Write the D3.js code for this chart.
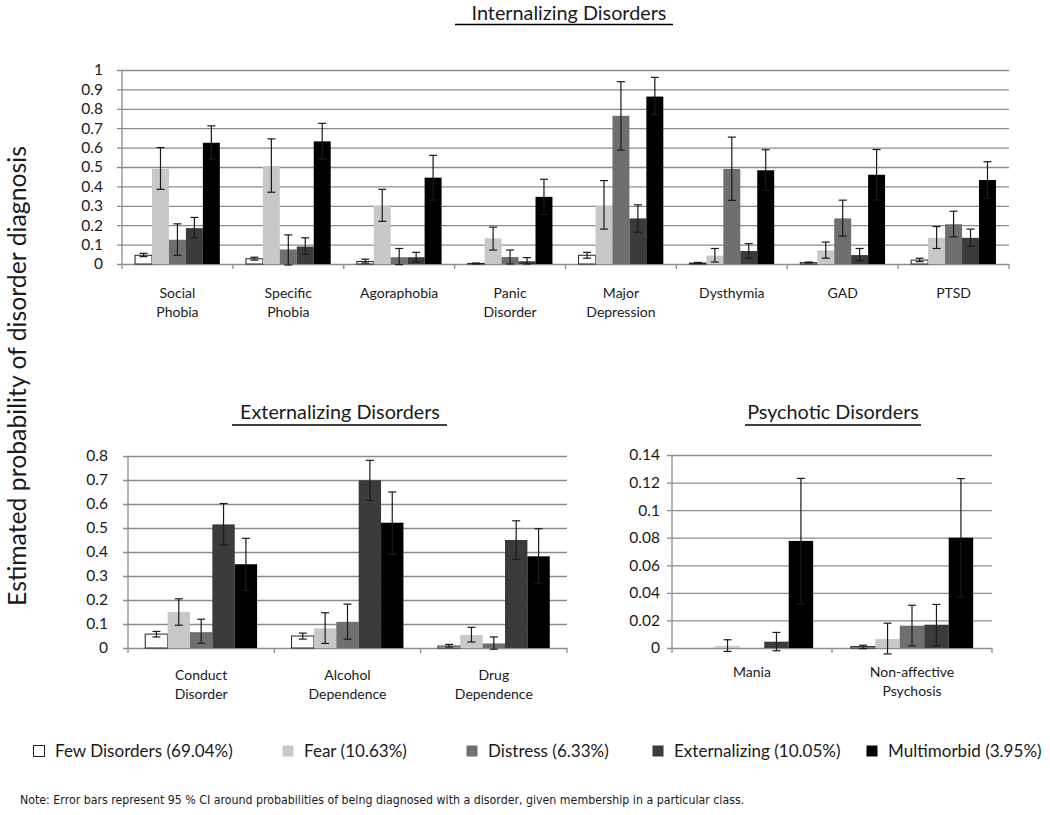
<!DOCTYPE html>
<html><head><meta charset="utf-8">
<script src="https://cdn.jsdelivr.net/npm/d3@7"></script>
<style>body{margin:0;background:#fff}svg{display:block}</style>
</head><body>
<svg id="c" width="1050" height="815"></svg>
<script>
// ---------- data ----------
const seriesNames = ["Few Disorders (69.04%)", "Fear (10.63%)", "Distress (6.33%)", "Externalizing (10.05%)", "Multimorbid (3.95%)"];
const seriesColors = ["#ffffff", "#c8c8c8", "#6f6f6f", "#3b3b3b", "#000000"];

const intCategories = ["Social Phobia", "Specific Phobia", "Agoraphobia", "Panic Disorder", "Major Depression", "Dysthymia", "GAD", "PTSD"];
const intTicks = ["0", "0.1", "0.2", "0.3", "0.4", "0.5", "0.6", "0.7", "0.8", "0.9", "1"];
const intMean = [
  [0.045, 0.027, 0.013, 0.003, 0.045, 0.005, 0.007, 0.020],
  [0.490, 0.505, 0.300, 0.132, 0.300, 0.043, 0.070, 0.135],
  [0.125, 0.075, 0.035, 0.036, 0.764, 0.490, 0.235, 0.205],
  [0.185, 0.090, 0.035, 0.014, 0.235, 0.067, 0.046, 0.135],
  [0.625, 0.632, 0.445, 0.346, 0.863, 0.483, 0.460, 0.433]
];
const intLow = [
  [0.038, 0.020, 0.005, 0.001, 0.030, 0.003, 0.005, 0.012],
  [0.385, 0.370, 0.220, 0.072, 0.180, 0.010, 0.030, 0.080],
  [0.045, -0.005, -0.003, 0.000, 0.587, 0.328, 0.144, 0.140],
  [0.135, 0.050, 0.010, 0.000, 0.164, 0.030, 0.017, 0.092],
  [0.540, 0.540, 0.330, 0.255, 0.770, 0.380, 0.330, 0.340]
];
const intHigh = [
  [0.055, 0.035, 0.025, 0.005, 0.060, 0.008, 0.010, 0.030],
  [0.600, 0.645, 0.385, 0.190, 0.430, 0.080, 0.113, 0.193],
  [0.207, 0.150, 0.080, 0.072, 0.940, 0.654, 0.329, 0.272],
  [0.240, 0.135, 0.060, 0.033, 0.305, 0.105, 0.080, 0.180],
  [0.712, 0.725, 0.560, 0.437, 0.962, 0.589, 0.590, 0.527]
];

const extCategories = ["Conduct Disorder", "Alcohol Dependence", "Drug Dependence"];
const extTicks = ["0", "0.1", "0.2", "0.3", "0.4", "0.5", "0.6", "0.7", "0.8"];
const extMean = [
  [0.058, 0.050, 0.008],
  [0.150, 0.082, 0.054],
  [0.066, 0.109, 0.019],
  [0.515, 0.699, 0.450],
  [0.349, 0.522, 0.382]
];
const extLow = [
  [0.046, 0.037, 0.004],
  [0.095, 0.019, 0.025],
  [0.020, 0.037, -0.005],
  [0.430, 0.615, 0.370],
  [0.240, 0.390, 0.270]
];
const extHigh = [
  [0.069, 0.062, 0.015],
  [0.205, 0.147, 0.086],
  [0.120, 0.183, 0.046],
  [0.602, 0.782, 0.530],
  [0.457, 0.650, 0.497]
];

const psyCategories = ["Mania", "Non-affective Psychosis"];
const psyTicks = ["0", "0.02", "0.04", "0.06", "0.08", "0.1", "0.12", "0.14"];
const psyMean = [
  [0, 0.0010],
  [0.0015, 0.0065],
  [0, 0.0162],
  [0.0046, 0.0169],
  [0.0777, 0.0800]
];
const psyLow = [
  [null, -0.0005],
  [-0.0025, -0.0043],
  [null, 0.0015],
  [-0.0020, 0.0017],
  [0.0320, 0.0370]
];
const psyHigh = [
  [null, 0.0020],
  [0.0060, 0.0180],
  [null, 0.0310],
  [0.0113, 0.0316],
  [0.1230, 0.1229]
];

const noteText = "Note: Error bars represent 95 % CI around probabilities of being diagnosed with a disorder, given membership in a particular class.";

// ---------- drawing ----------
const svg = d3.select("#c");
const FONT = "Lato, 'Open Sans', sans-serif";
const GRID = "#8c8c8c";
const INK = "#1a1a1a";

function fit(sel, target) {
  const w = sel.node().getComputedTextLength();
  const fs = parseFloat(sel.attr("font-size"));
  sel.attr("font-size", fs * target / w);
  return fs * target / w;
}

function drawPanel(cfg) {
  const { cats, ticks, mean, low, high, x0, x1, yTop, yZero, labelGap, labelOffset } = cfg;
  const tickVals = ticks.map(Number);
  const maxV = d3.max(tickVals);
  const g = svg.append("g");
  const xb = d3.scaleBand().domain(cats).range([x0, x1]).padding(0);
  const inner = d3.scaleBand().domain(d3.range(seriesNames.length))
    .range([0, xb.bandwidth()]).paddingInner(0).paddingOuter(0.77);
  const y = d3.scaleLinear().domain([0, maxV]).range([yZero, yTop]);

  // y axis with gridlines
  const ya = g.append("g").attr("transform", `translate(${x0},0)`)
    .call(d3.axisLeft(y).tickValues(tickVals).tickFormat((d, i) => ticks[i])
      .tickSizeInner(-(x1 - x0)).tickSizeOuter(0).tickPadding(labelGap));
  ya.select(".domain").remove();
  ya.selectAll(".tick line").attr("x1", -5).attr("stroke", GRID).attr("stroke-width", 1.3);
  ya.selectAll(".tick text").attr("font-family", FONT).attr("font-size", 15.5).attr("fill", INK);
  // vertical axis line
  g.append("line").attr("x1", x0).attr("x2", x0).attr("y1", yTop).attr("y2", yZero + 5)
    .attr("stroke", GRID).attr("stroke-width", 1.3);
  // category boundary ticks
  const bounds = cats.map(c => xb(c)).concat([x1]).slice(1);
  g.selectAll(".ctick").data(bounds).enter().append("line")
    .attr("x1", d => d).attr("x2", d => d).attr("y1", yZero).attr("y2", yZero + 5)
    .attr("stroke", GRID).attr("stroke-width", 1.3);

  // bars
  seriesNames.forEach((s, si) => {
    const sg = g.append("g");
    sg.selectAll("rect").data(cats.map((c, ci) => ({ c, v: mean[si][ci] }))).enter()
      .filter(d => d.v > 0)
      .append("rect")
      .attr("x", d => xb(d.c) + inner(si))
      .attr("width", inner.bandwidth())
      .attr("y", d => y(d.v))
      .attr("height", d => yZero - y(d.v))
      .attr("fill", seriesColors[si])
      .attr("stroke", si === 0 ? "#222" : seriesColors[si])
      .attr("stroke-width", si === 0 ? 1 : 0);
  });
  // error bars
  seriesNames.forEach((s, si) => {
    cats.forEach((c, ci) => {
      const lo = low[si][ci], hi = high[si][ci];
      if (lo == null || hi == null) return;
      const cx = xb(c) + inner(si) + inner.bandwidth() / 2;
      const eg = g.append("g").attr("stroke", INK).attr("stroke-width", 1.2);
      eg.append("line").attr("x1", cx).attr("x2", cx).attr("y1", y(lo)).attr("y2", y(hi));
      eg.append("line").attr("x1", cx - 4).attr("x2", cx + 4).attr("y1", y(lo)).attr("y2", y(lo));
      eg.append("line").attr("x1", cx - 4).attr("x2", cx + 4).attr("y1", y(hi)).attr("y2", y(hi));
    });
  });

  // category labels
  const xa = g.append("g").attr("transform", `translate(0,${yZero})`)
    .call(d3.axisBottom(xb).tickSize(0).tickPadding(0));
  xa.select(".domain").remove();
  xa.selectAll(".tick text").each(function (d) {
    const t = d3.select(this).text("").attr("y", 0).attr("dy", null)
      .attr("font-family", FONT).attr("font-size", 14).attr("fill", INK);
    d.split(" ").forEach((w, i) => {
      t.append("tspan").attr("x", 0).attr("y", labelOffset + i * 19).text(w);
    });
  });
}

drawPanel({ cats: intCategories, ticks: intTicks, mean: intMean, low: intLow, high: intHigh,
  x0: 122, x1: 1009, yTop: 70, yZero: 264, labelGap: 19, labelOffset: 34 });
drawPanel({ cats: extCategories, ticks: extTicks, mean: extMean, low: extLow, high: extHigh,
  x0: 128, x1: 567, yTop: 456, yZero: 648, labelGap: 20, labelOffset: 32 });
drawPanel({ cats: psyCategories, ticks: psyTicks, mean: psyMean, low: psyLow, high: psyHigh,
  x0: 672, x1: 992, yTop: 455, yZero: 648, labelGap: 12, labelOffset: 29 });

// titles
const titles = [
  { t: "Internalizing Disorders", cx: 569, by: 20, ul: [455, 673], uy: 24.5 },
  { t: "Externalizing Disorders", cx: 340, by: 419, ul: [232, 447], uy: 425 },
  { t: "Psychotic Disorders", cx: 833, by: 419, ul: [745, 921], uy: 425 }
];
let titleSize = 20;
titles.forEach((d, i) => {
  const t = svg.append("text").attr("x", d.cx).attr("y", d.by).attr("text-anchor", "middle")
    .attr("font-family", FONT).attr("font-size", titleSize).attr("fill", INK).text(d.t);
  if (i === 0) titleSize = fit(t, 195);
  svg.append("line").attr("x1", d.ul[0]).attr("x2", d.ul[1]).attr("y1", d.uy).attr("y2", d.uy)
    .attr("stroke", "#000").attr("stroke-width", 1.3);
});

// y label
const yl = svg.append("text").attr("transform", "translate(26,376) rotate(-90)")
  .attr("text-anchor", "middle").attr("font-family", FONT).attr("font-size", 21)
  .attr("fill", INK).text("Estimated probability of disorder diagnosis");
fit(yl, 460);

// legend
const legX = [33, 282, 466, 652, 866];
let legSize = 17;
seriesNames.forEach((s, i) => {
  svg.append("rect").attr("x", legX[i] + 0.5).attr("y", 745.5).attr("width", 11).attr("height", 11)
    .attr("fill", seriesColors[i]).attr("stroke", i === 0 ? "#222" : "none");
  const t = svg.append("text").attr("x", legX[i] + 22).attr("y", 757)
    .attr("font-family", FONT).attr("font-size", legSize).attr("fill", INK).text(s);
  if (i === 0) legSize = fit(t, 178);
});

// note
const nt = svg.append("text").attr("x", 20).attr("y", 804)
  .attr("font-family", "'DejaVu Sans Condensed', 'Liberation Sans Narrow', sans-serif")
  .attr("font-size", 11).attr("fill", INK).text(noteText);
fit(nt, 725);
</script>
</body></html>
